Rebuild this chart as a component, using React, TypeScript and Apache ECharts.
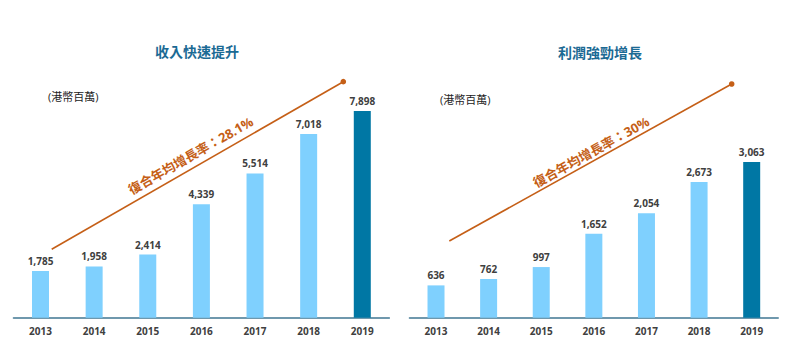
import React, { useEffect, useRef } from "react";
import * as echarts from "echarts";

const years = ["2013", "2014", "2015", "2016", "2017", "2018", "2019"];
const revenue = [1785, 1958, 2414, 4339, 5514, 7018, 7898];
const profit = [636, 762, 997, 1652, 2054, 2673, 3063];
const titles = ["收入快速提升", "利潤強勁增長"];
const unitLabel = "(港幣百萬)";
const cagrLabels = ["復合年均增長率：28.1%", "復合年均增長率：30%"];

const LIGHT = "#7fd0fe";
const DARK = "#0077a4";
const ORANGE = "#c55f17";
const FONT = "'Open Sans', 'Noto Sans CJK TC', sans-serif";

function barData(vals: number[]) {
  return vals.map((v, i) => ({
    value: v,
    itemStyle: { color: i === vals.length - 1 ? DARK : LIGHT },
  }));
}

export default function App() {
  const ref = useRef<HTMLDivElement>(null);
  useEffect(() => {
    const chart = echarts.init(ref.current!, null, { renderer: "svg" });
    const xAxisBase = {
      type: "category" as const,
      data: years,
      axisLine: { lineStyle: { color: "#6f98ad", width: 2 } },
      axisTick: { show: false },
      axisLabel: { color: "#404040", fontWeight: "bold", fontSize: 10, margin: 8, fontFamily: FONT },
    };
    const labelBase = {
      show: true,
      position: "top" as const,
      distance: 5,
      color: "#404040",
      fontWeight: "bold" as const,
      fontSize: 10,
      fontFamily: FONT,
      formatter: (p: any) => Number(p.value).toLocaleString("en-US"),
    };
    chart.setOption({
      animation: false,
      backgroundColor: "#ffffff",
      grid: [
        { left: 13.7, width: 375.4, top: 56, height: 261.7 },
        { left: 409.7, width: 368.3, top: 63.7, height: 254 },
      ],
      xAxis: [
        { ...xAxisBase, gridIndex: 0 },
        { ...xAxisBase, gridIndex: 1 },
      ],
      yAxis: [
        { type: "value", gridIndex: 0, min: 0, max: 10000, show: false, splitLine: { show: false } },
        { type: "value", gridIndex: 1, min: 0, max: 5000, show: false, splitLine: { show: false } },
      ],
      series: [
        { type: "bar", xAxisIndex: 0, yAxisIndex: 0, barWidth: 17, data: barData(revenue), label: labelBase },
        { type: "bar", xAxisIndex: 1, yAxisIndex: 1, barWidth: 17, data: barData(profit), label: labelBase },
      ],
      graphic: [
        {
          type: "text", x: 197, y: 51,
          style: { text: titles[0], fill: "#1b6a94", font: `bold 14px ${FONT}`, textAlign: "center", textVerticalAlign: "middle" },
        },
        {
          type: "text", x: 600, y: 52.5,
          style: { text: titles[1], fill: "#1b6a94", font: `bold 14px ${FONT}`, textAlign: "center", textVerticalAlign: "middle" },
        },
        {
          type: "text", x: 48, y: 96,
          style: { text: unitLabel, fill: "#222222", font: `11px ${FONT}`, textAlign: "left", textVerticalAlign: "middle" },
        },
        {
          type: "text", x: 440, y: 99.5,
          style: { text: unitLabel, fill: "#222222", font: `11px ${FONT}`, textAlign: "left", textVerticalAlign: "middle" },
        },
        {
          type: "line",
          shape: { x1: 51.7, y1: 249.3, x2: 343.3, y2: 81.7 },
          style: { stroke: ORANGE, lineWidth: 1.6 },
        },
        { type: "circle", shape: { cx: 343.3, cy: 81.7, r: 2.8 }, style: { fill: ORANGE } },
        {
          type: "line",
          shape: { x1: 449.3, y1: 241, x2: 731.7, y2: 84 },
          style: { stroke: ORANGE, lineWidth: 1.6 },
        },
        { type: "circle", shape: { cx: 731.7, cy: 84, r: 2.8 }, style: { fill: ORANGE } },
        {
          type: "text", x: 190.5, y: 155.5, rotation: (29.9 * Math.PI) / 180,
          style: { text: cagrLabels[0], fill: ORANGE, font: `bold 13px ${FONT}`, textAlign: "center", textVerticalAlign: "middle" },
        },
        {
          type: "text", x: 591, y: 152, rotation: (29.1 * Math.PI) / 180,
          style: { text: cagrLabels[1], fill: ORANGE, font: `bold 13px ${FONT}`, textAlign: "center", textVerticalAlign: "middle" },
        },
      ],
    });
    return () => chart.dispose();
  }, []);
  return <div ref={ref} style={{ position: "absolute", left: 0, top: 0, width: 791, height: 355 }} />;
}
